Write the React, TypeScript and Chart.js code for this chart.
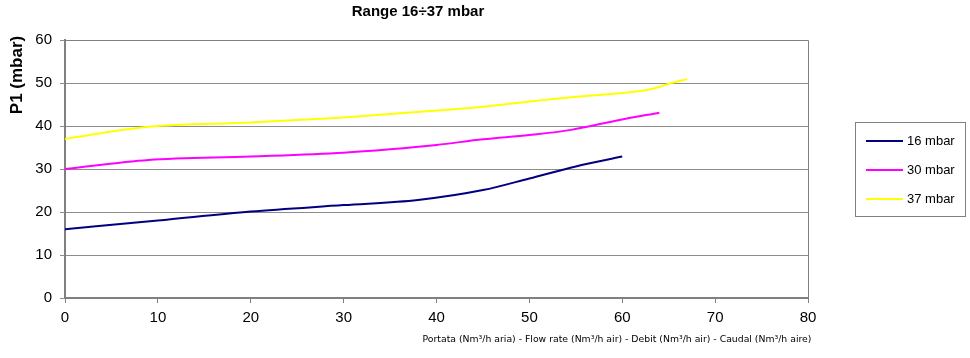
import React, { useEffect, useRef } from "react";
import { Chart, registerables } from "chart.js";

Chart.register(...registerables);

const TITLE = "Range 16÷37 mbar";
const Y_TITLE = "P1 (mbar)";
const X_TITLE = "Portata (Nm³/h aria) - Flow rate (Nm³/h air) - Debit (Nm³/h air) - Caudal (Nm³/h aire)";

const SERIES_NAMES = ["16 mbar", "30 mbar", "37 mbar"];
const SERIES_COLORS = ["#000080", "#FF00FF", "#FFFF00"];

const FLOW_16 = [0, 10, 20, 30, 38, 45, 50, 55, 60];
const P_16 = [16, 18, 20.1, 21.6, 22.8, 25.1, 27.8, 30.6, 32.9];

const FLOW_30 = [0, 9, 20, 30, 35, 40, 45, 50, 54.5, 59.7, 64];
const P_30 = [30, 32.1, 32.9, 33.8, 34.6, 35.6, 36.9, 37.9, 39.1, 41.4, 43.1];

const FLOW_37 = [0, 9, 20, 30, 40, 45, 50, 55, 61.5, 63.5, 65.5, 67];
const P_37 = [37, 39.8, 40.8, 42, 43.6, 44.5, 45.7, 46.8, 48, 48.8, 50.1, 50.9];

const X_MIN = 0, X_MAX = 80, X_STEP = 10;
const Y_MIN = 0, Y_MAX = 60, Y_STEP = 10;

const toPoints = (xs: number[], ys: number[]) => xs.map((x, i) => ({ x, y: ys[i] }));

const FONT = "'Liberation Sans', Arial, sans-serif";

const decorPlugin = {
  id: "decor",
  afterDraw(chart: any) {
    const { ctx, chartArea } = chart;
    ctx.save();
    ctx.strokeStyle = "#808080";
    ctx.lineWidth = 1;
    ctx.beginPath();
    ctx.moveTo(chartArea.left, chartArea.top + 0.5);
    ctx.lineTo(chartArea.right + 0.5, chartArea.top + 0.5);
    ctx.lineTo(chartArea.right + 0.5, chartArea.bottom);
    ctx.stroke();

    ctx.fillStyle = "#000";
    ctx.font = `bold 15px ${FONT}`;
    ctx.textAlign = "center";
    ctx.textBaseline = "middle";
    ctx.fillText(TITLE, 418, 12);

    ctx.save();
    ctx.translate(17, 75);
    ctx.rotate(-Math.PI / 2);
    ctx.font = `bold 17px ${FONT}`;
    ctx.fillText(Y_TITLE, 0, 0);
    ctx.restore();

    ctx.font = `9.3px 'DejaVu Sans', Tahoma, sans-serif`;
    ctx.textAlign = "center";
    ctx.fillText(X_TITLE, 617, 340);

    const lx = 855, ly = 122, lw = 110, lh = 94;
    ctx.fillStyle = "#fff";
    ctx.fillRect(lx, ly, lw, lh);
    ctx.strokeStyle = "#808080";
    ctx.lineWidth = 1;
    ctx.strokeRect(lx + 0.5, ly + 0.5, lw, lh);
    ctx.font = `13px ${FONT}`;
    ctx.textAlign = "left";
    SERIES_NAMES.forEach((name, i) => {
      const y = ly + 19 + i * 29;
      ctx.strokeStyle = SERIES_COLORS[i];
      ctx.lineWidth = 2;
      ctx.beginPath();
      ctx.moveTo(866, y);
      ctx.lineTo(903, y);
      ctx.stroke();
      ctx.fillStyle = "#000";
      ctx.fillText(name, 907, y);
    });
    ctx.restore();
  },
};

export default function App() {
  const ref = useRef<HTMLCanvasElement>(null);
  useEffect(() => {
    if (!ref.current) return;
    const ds = [
      toPoints(FLOW_16, P_16),
      toPoints(FLOW_30, P_30),
      toPoints(FLOW_37, P_37),
    ];
    const chart = new Chart(ref.current, {
      type: "line",
      data: {
        datasets: ds.map((d, i) => ({
          label: SERIES_NAMES[i],
          data: d,
          borderColor: SERIES_COLORS[i],
          backgroundColor: SERIES_COLORS[i],
          borderWidth: 2,
          pointRadius: 0,
          tension: 0.4,
          cubicInterpolationMode: "monotone" as const,
          fill: false,
        })),
      },
      options: {
        animation: false,
        responsive: false,
        layout: { padding: { top: 40, right: 162, left: 0, bottom: 0 } },
        plugins: { legend: { display: false }, title: { display: false }, tooltip: { enabled: false } },
        scales: {
          x: {
            type: "linear",
            min: X_MIN,
            max: X_MAX,
            ticks: { stepSize: X_STEP, color: "#000", font: { family: FONT, size: 15 }, padding: 6 },
            grid: { drawOnChartArea: false, drawTicks: true, tickLength: 5, color: "#808080" },
            border: { color: "#808080", width: 2 },
            afterFit: (s: any) => { s.height = 60; },
          },
          y: {
            type: "linear",
            min: Y_MIN,
            max: Y_MAX,
            ticks: { stepSize: Y_STEP, color: "#000", font: { family: FONT, size: 15 }, padding: 8 },
            grid: { drawOnChartArea: true, drawTicks: true, tickLength: 5, color: "#8c8c8c" },
            border: { color: "#808080", width: 2 },
            afterFit: (s: any) => { s.width = 65; },
          },
        },
      },
      plugins: [decorPlugin],
    });
    return () => chart.destroy();
  }, []);
  return (
    <div style={{ position: "fixed", left: 0, top: 0, width: 970, height: 358, background: "#fff" }}>
      <canvas ref={ref} width={970} height={358} style={{ width: 970, height: 358 }} />
    </div>
  );
}
